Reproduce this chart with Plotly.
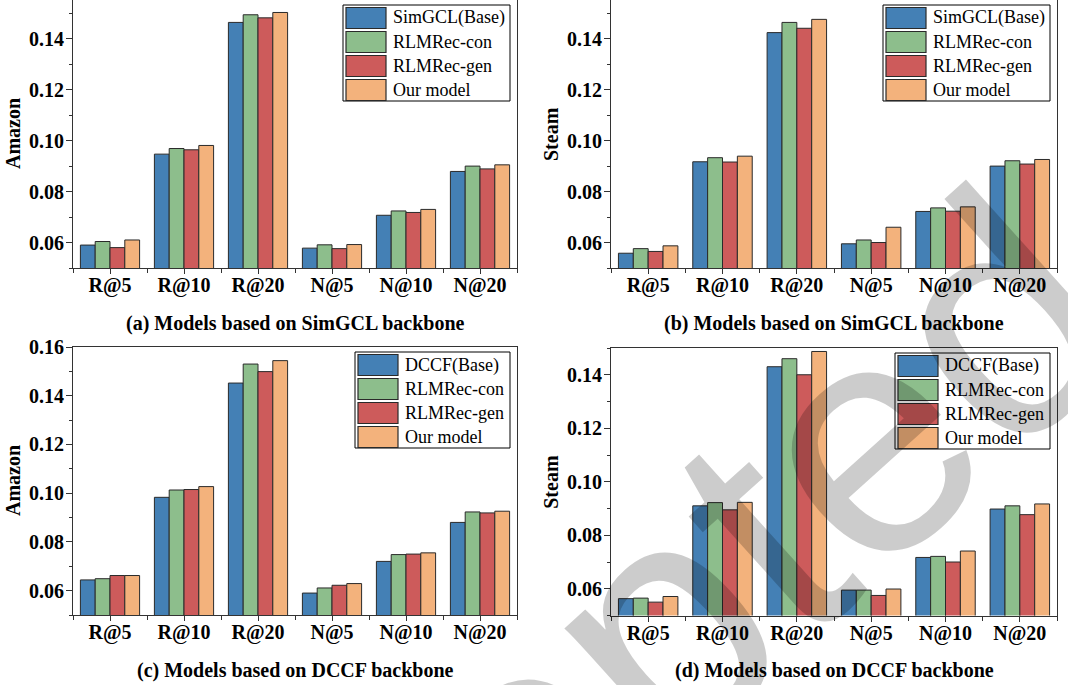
import plotly.graph_objects as go

W, H = 1068, 685

categories = ["R@5", "R@10", "R@20", "N@5", "N@10", "N@20"]
series_names_simgcl = ["SimGCL(Base)", "RLMRec-con", "RLMRec-gen", "Our model"]
series_names_dccf = ["DCCF(Base)", "RLMRec-con", "RLMRec-gen", "Our model"]
colors = ["#4480B5", "#8DBE8C", "#CD5B5B", "#F3B27C"]

# (a) SimGCL on Amazon
a_base = [0.0590, 0.0947, 0.1464, 0.0578, 0.0707, 0.0879]
a_con = [0.0604, 0.0969, 0.1494, 0.0591, 0.0724, 0.0900]
a_gen = [0.0580, 0.0964, 0.1482, 0.0576, 0.0718, 0.0889]
a_our = [0.0610, 0.0981, 0.1503, 0.0592, 0.0730, 0.0905]
# (b) SimGCL on Steam
b_base = [0.0558, 0.0917, 0.1424, 0.0595, 0.0722, 0.0900]
b_con = [0.0576, 0.0933, 0.1464, 0.0610, 0.0736, 0.0921]
b_gen = [0.0565, 0.0916, 0.1441, 0.0600, 0.0723, 0.0908]
b_our = [0.0587, 0.0939, 0.1476, 0.0660, 0.0740, 0.0926]
# (c) DCCF on Amazon
c_base = [0.0644, 0.0983, 0.1452, 0.0590, 0.0720, 0.0880]
c_con = [0.0649, 0.1013, 0.1530, 0.0611, 0.0748, 0.0923]
c_gen = [0.0662, 0.1015, 0.1499, 0.0622, 0.0750, 0.0919]
c_our = [0.0662, 0.1027, 0.1544, 0.0629, 0.0755, 0.0926]
# (d) DCCF on Steam
d_base = [0.0563, 0.0910, 0.1430, 0.0595, 0.0717, 0.0898]
d_con = [0.0565, 0.0922, 0.1460, 0.0595, 0.0721, 0.0910]
d_gen = [0.0550, 0.0895, 0.1400, 0.0575, 0.0700, 0.0877]
d_our = [0.0571, 0.0923, 0.1487, 0.0599, 0.0741, 0.0917]

panels = [
    dict(series=[a_base, a_con, a_gen, a_our], names=series_names_simgcl, ytitle="Amazon",
         caption="(a) Models based on SimGCL backbone", px=(73, 517), py=(0, 268), yr=(0.05, 0.1552)),
    dict(series=[b_base, b_con, b_gen, b_our], names=series_names_simgcl, ytitle="Steam",
         caption="(b) Models based on SimGCL backbone", px=(611, 1057), py=(0, 268), yr=(0.05, 0.1552)),
    dict(series=[c_base, c_con, c_gen, c_our], names=series_names_dccf, ytitle="Amazon",
         caption="(c) Models based on DCCF backbone", px=(73, 517), py=(347, 615), yr=(0.05, 0.16)),
    dict(series=[d_base, d_con, d_gen, d_our], names=series_names_dccf, ytitle="Steam",
         caption="(d) Models based on DCCF backbone", px=(611, 1057), py=(348, 615.5), yr=(0.05, 0.15)),
]

SERIF = "Liberation Serif, Times New Roman, serif"
tick_font = dict(family=SERIF, size=20, color="black", weight="bold")


def fx(p):
    return p / W


def fy(p):
    return 1 - p / H


fig = go.Figure()
layout = dict(
    width=W, height=H, margin=dict(l=0, r=0, t=0, b=0, pad=0, autoexpand=False),
    paper_bgcolor="white", plot_bgcolor="white",
    barmode="group", bargap=0.2, bargroupgap=0.0, showlegend=False,
)
shapes = []
annotations = []
xidx = list(range(len(categories)))

for i, p in enumerate(panels):
    n = i + 1
    xa = "x" if n == 1 else f"x{n}"
    ya = "y" if n == 1 else f"y{n}"
    for s, (vals, name, col) in enumerate(zip(p["series"], p["names"], colors)):
        fig.add_trace(go.Bar(
            x=xidx, y=vals, name=name, xaxis=xa, yaxis=ya,
            marker=dict(color=col, line=dict(color="#2a2a2a", width=1)),
            offsetgroup=str(s), hoverinfo="skip",
        ))
    axis_line = dict(showline=True, linecolor="#333333", linewidth=1, mirror=True,
                     showgrid=False, zeroline=False, automargin=False)
    layout["xaxis" + ("" if n == 1 else str(n))] = dict(
        domain=[fx(p["px"][0]), fx(p["px"][1])], anchor=ya,
        range=[-0.5, len(categories) - 0.5], tickmode="array", tickvals=xidx, ticktext=categories,
        ticks="outside", ticklen=5, tickwidth=1, tickcolor="#333333", tickfont=tick_font,
        ticklabelstandoff=-6,
        minor=dict(ticks="outside", ticklen=4, tickwidth=1, tickcolor="#333333", tick0=0.5, dtick=1),
        **axis_line,
    )
    layout["yaxis" + ("" if n == 1 else str(n))] = dict(
        domain=[fy(p["py"][1]), fy(p["py"][0])], anchor=xa,
        range=list(p["yr"]), tick0=0, dtick=0.02, tickformat=".2f",
        ticks="outside", ticklen=6, tickwidth=1, tickcolor="#333333", tickfont=tick_font,
        ticklabelstandoff=-2,
        minor=dict(ticks="outside", ticklen=3, tickwidth=1, tickcolor="#333333", dtick=0.01),
        **axis_line,
    )
    # y-axis title
    annotations.append(dict(
        text=p["ytitle"], xref="paper", yref="paper", x=fx(p["px"][0] - 60),
        y=fy((p["py"][0] + p["py"][1]) / 2), textangle=-90, showarrow=False,
        font=dict(family=SERIF, size=20, color="black", weight="bold"),
        xanchor="center", yanchor="middle",
    ))
    # caption
    annotations.append(dict(
        text=p["caption"], xref="paper", yref="paper", x=fx((p["px"][0] + p["px"][1]) / 2),
        y=fy(p["py"][1] + 55), showarrow=False,
        font=dict(family=SERIF, size=20, color="black", weight="bold"),
        xanchor="center", yanchor="middle",
    ))
    # custom legend box
    lw = 167 if i < 2 else 155
    right = p["px"][1] - 7
    left = right - lw
    top = p["py"][0] + 5
    shapes.append(dict(type="rect", xref="paper", yref="paper",
                       x0=fx(left), x1=fx(right), y0=fy(top), y1=fy(top + 96),
                       line=dict(color="black", width=1), fillcolor="white", layer="above"))
    for r, (name, col) in enumerate(zip(p["names"], colors)):
        cy = top + 13 + 24 * r
        shapes.append(dict(type="rect", xref="paper", yref="paper",
                           x0=fx(left + 3), x1=fx(left + 43), y0=fy(cy + 10.5), y1=fy(cy - 10.5),
                           line=dict(color="#2a2a2a", width=1.2), fillcolor=col, layer="above"))
        annotations.append(dict(
            text=name, xref="paper", yref="paper", x=fx(left + 48), y=fy(cy),
            showarrow=False, xanchor="left", yanchor="middle",
            font=dict(family=SERIF, size=18, color="black"),
        ))

# watermark
annotations.append(dict(
    text="Accepted", xref="paper", yref="paper", x=fx(555), y=fy(718),
    textangle=-42, showarrow=False, xanchor="center", yanchor="middle",
    font=dict(family="Liberation Sans", size=330, color="rgba(0,0,0,0.2)"),
))

layout["shapes"] = shapes
layout["annotations"] = annotations
fig.update_layout(**layout)
fig.write_html(
    "out.html",
    config={"displayModeBar": False, "staticPlot": True},
    post_script="document.body.style.margin='0';document.body.style.overflow='hidden';",
)
